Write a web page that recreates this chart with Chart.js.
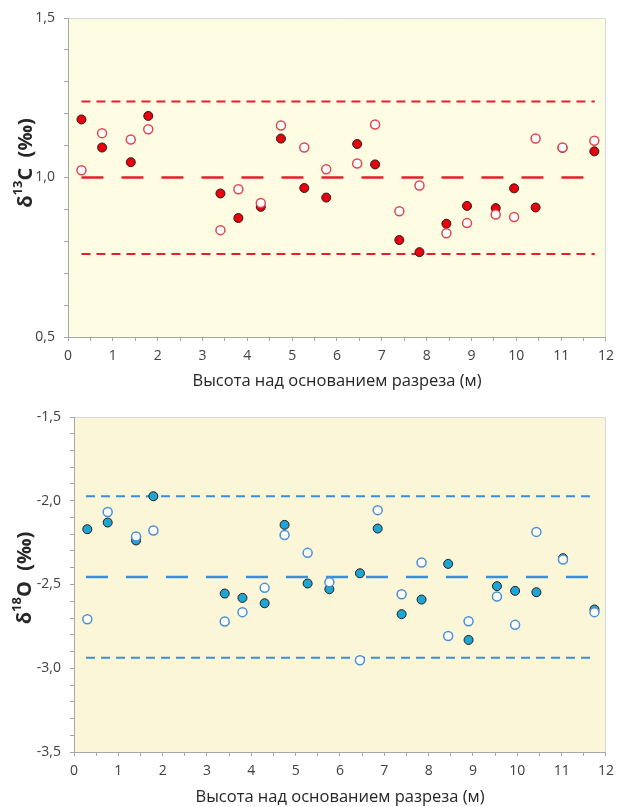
<!DOCTYPE html>
<html>
<head>
<meta charset="utf-8">
<script src="https://cdn.jsdelivr.net/npm/chart.js@4"></script>
<style>
  body { margin: 0; background: #ffffff; }
  .box { position: relative; width: 621px; }
</style>
</head>
<body>
<div class="box" style="height:395px"><canvas id="carbonChart" width="621" height="395"></canvas></div>
<div class="box" style="height:412px"><canvas id="oxygenChart" width="621" height="412"></canvas></div>
<script>
// Sample heights above the base of the section (m)
const heights = [0.30, 0.76, 1.40, 1.79, 3.40, 3.80, 4.30, 4.75, 5.27, 5.76, 6.45,
                 6.85, 7.39, 7.84, 8.44, 8.90, 9.54, 9.95, 10.43, 11.03, 11.74];

// δ13C values: filled and open markers
const carbonFilled = [1.182, 1.094, 1.048, 1.193, 0.950, 0.873, 0.908, 1.122, 0.967, 0.937, 1.105,
                      1.041, 0.804, 0.766, 0.855, 0.911, 0.904, 0.966, 0.906, 1.093, 1.082];
const carbonOpen = [1.023, 1.139, 1.119, 1.151, 0.835, 0.963, 0.920, 1.163, 1.094, 1.026, 1.044,
                    1.166, 0.894, 0.975, 0.825, 0.857, 0.884, 0.876, 1.122, 1.094, 1.115];

// δ18O values: filled and open markers
const oxygenFilled = [-2.170, -2.130, -2.237, -1.973, -2.554, -2.580, -2.612, -2.144, -2.494, -2.528, -2.433,
                      -2.166, -2.677, -2.590, -2.377, -2.831, -2.510, -2.538, -2.546, -2.343, -2.649];
const oxygenOpen = [-2.707, -2.067, -2.213, -2.178, -2.721, -2.665, -2.520, -2.204, -2.311, -2.486, -2.952,
                    -2.056, -2.558, -2.369, -2.807, -2.719, -2.572, -2.741, -2.186, -2.351, -2.665];

// Mean and limit lines: [mean, upper, lower] and their x extent
const carbonLevels = [1.0, 1.238, 0.760];
const carbonSpan = [0.30, 11.75];
const oxygenLevels = [-2.455, -1.973, -2.937];
const oxygenSpan = [0.27, 11.65];

const xTitle = 'Высота над основанием разреза (м)';
const fontFamily = "'Open Sans', 'Liberation Sans', sans-serif";

// paints the cream plot area and its thin frame
const plotBackground = {
    id: 'plotBackground',
    beforeDraw(chart, args, opts) {
        const a = chart.chartArea;
        const ctx = chart.ctx;
        ctx.save();
        ctx.fillStyle = opts.color;
        ctx.fillRect(a.left, a.top, a.right - a.left, a.bottom - a.top);
        ctx.strokeStyle = '#d9d9d9';
        ctx.lineWidth = 1;
        ctx.beginPath();
        ctx.moveTo(a.left, a.top + 0.5);
        ctx.lineTo(a.right - 0.5, a.top + 0.5);
        ctx.lineTo(a.right - 0.5, a.bottom);
        ctx.stroke();
        ctx.restore();
    }
};

// y axis title with a real superscript (δ + isotope number + element + unit)
const isotopeTitle = {
    id: 'isotopeTitle',
    afterDraw(chart, args, opts) {
        const ctx = chart.ctx;
        const big = 'bold 20px ' + fontFamily;
        const small = 'bold 13px ' + fontFamily;
        const parts = [
            { t: 'δ', f: big, dy: 0 },
            { t: opts.mass, f: small, dy: -8 },
            { t: opts.element, f: big, dy: 0 },
            { t: '  (‰)', f: big, dy: 0 }
        ];
        let total = 0;
        parts.forEach(p => { ctx.font = p.f; p.w = ctx.measureText(p.t).width; total += p.w; });
        ctx.save();
        ctx.translate(opts.x, opts.y);
        ctx.rotate(-Math.PI / 2);
        ctx.fillStyle = '#262626';
        ctx.textBaseline = 'middle';
        ctx.textAlign = 'left';
        let pos = -total / 2;
        parts.forEach(p => {
            ctx.font = p.f;
            ctx.fillText(p.t, pos, 1 + p.dy);
            pos += p.w;
        });
        ctx.restore();
    }
};

function points(xs, ys) {
    return xs.map((x, i) => ({ x: x, y: ys[i] }));
}

function levelLine(span, value, color, width, dash) {
    return {
        data: [{ x: span[0], y: value }, { x: span[1], y: value }],
        showLine: true,
        borderColor: color,
        borderWidth: width,
        borderDash: dash,
        pointRadius: 0,
        order: 3
    };
}

function makeChart(id, cfg) {
    const ctx = document.getElementById(id).getContext('2d');
    return new Chart(ctx, {
        type: 'scatter',
        data: {
            datasets: [
                levelLine(cfg.span, cfg.levels[0], cfg.lineColor, 2.5, [22, 18]),
                levelLine(cfg.span, cfg.levels[1], cfg.lineColor, 2, [9, 6]),
                levelLine(cfg.span, cfg.levels[2], cfg.lineColor, 2, [9, 6]),
                {
                    data: points(heights, cfg.filled),
                    pointRadius: 4.5,
                    pointBackgroundColor: cfg.fillColor,
                    pointBorderColor: '#2b1a1a',
                    pointBorderWidth: 1,
                    order: 2
                },
                {
                    data: points(heights, cfg.open),
                    pointRadius: 4.5,
                    pointBackgroundColor: '#ffffff',
                    pointBorderColor: cfg.openColor,
                    pointBorderWidth: 1.5,
                    order: 1
                }
            ]
        },
        options: {
            responsive: false,
            animation: false,
            layout: { padding: cfg.padding },
            plugins: {
                legend: { display: false },
                tooltip: { enabled: false },
                plotBackground: { color: cfg.bg },
                isotopeTitle: cfg.title
            },
            scales: {
                x: {
                    type: 'linear',
                    min: 0,
                    max: 12,
                    afterFit: (scale) => { scale.height = cfg.xHeight; },
                    border: { display: true, color: '#a6a6a6', width: 1 },
                    grid: { drawOnChartArea: false, drawTicks: true, tickLength: 4, color: '#a6a6a6' },
                    ticks: {
                        stepSize: 0.5,
                        autoSkip: false,
                        maxRotation: 0,
                        padding: 7,
                        color: '#404040',
                        font: { family: fontFamily, size: 14 },
                        callback: (v) => (Math.abs(v - Math.round(v)) < 1e-6 ? String(Math.round(v)) : '')
                    },
                    title: {
                        display: true,
                        text: xTitle,
                        color: '#262626',
                        font: { family: fontFamily, size: 16.5 },
                        padding: { top: 0, bottom: cfg.xTitlePad }
                    }
                },
                y: {
                    type: 'linear',
                    min: cfg.yMin,
                    max: cfg.yMax,
                    afterFit: (scale) => { scale.width = cfg.yWidth; },
                    border: { display: true, color: '#a6a6a6', width: 1 },
                    grid: { drawOnChartArea: false, drawTicks: true, tickLength: 4, color: '#a6a6a6' },
                    ticks: {
                        stepSize: 0.1,
                        autoSkip: false,
                        padding: 9,
                        color: '#404040',
                        font: { family: fontFamily, size: 14 },
                        callback: (v) => {
                            const t = Math.round(v * 10);
                            return t % 5 === 0 ? (t / 10).toFixed(1).replace('.', ',') : '';
                        }
                    }
                }
            }
        },
        plugins: [plotBackground, isotopeTitle]
    });
}

makeChart('carbonChart', {
    filled: carbonFilled,
    open: carbonOpen,
    levels: carbonLevels,
    span: carbonSpan,
    yMin: 0.5,
    yMax: 1.5,
    title: { mass: '13', element: 'C', x: 25, y: 163 },
    lineColor: '#e5202e',
    fillColor: '#e8000f',
    openColor: '#e0474c',
    bg: '#fefde4',
    padding: { left: 0, right: 11, top: 18, bottom: 0 },
    xHeight: 58,
    yWidth: 68,
    xTitlePad: 4
});

makeChart('oxygenChart', {
    filled: oxygenFilled,
    open: oxygenOpen,
    levels: oxygenLevels,
    span: oxygenSpan,
    yMin: -3.5,
    yMax: -1.5,
    title: { mass: '18', element: 'O', x: 24, y: 183 },
    lineColor: '#3b8fd6',
    fillColor: '#1ba6d6',
    openColor: '#4a90d4',
    bg: '#fcf6d8',
    padding: { left: 0, right: 10, top: 22, bottom: 0 },
    xHeight: 55,
    yWidth: 74,
    xTitlePad: 0
});
</script>
</body>
</html>
